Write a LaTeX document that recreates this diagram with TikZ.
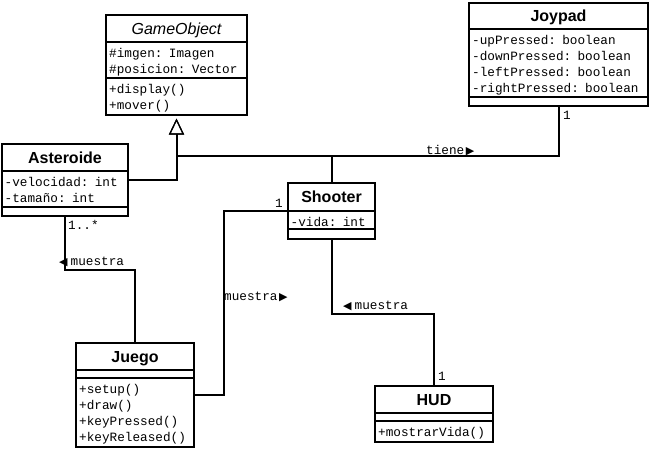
\documentclass[tikz,border=0pt]{standalone}
\usepackage{fontspec}
\setmainfont{Liberation Sans}
\setmonofont{Liberation Mono}
\newfontfamily\symfont{DejaVu Sans}
\usepackage{tikz}
\usetikzlibrary{
	positioning,
	arrows.meta
}

\newcommand{\tipright}{{\hspace{1.5pt}\symfont\fontsize{11}{11}\selectfont ▶}}
\newcommand{\tipleft}{{\symfont\fontsize{11}{11}\selectfont ◀}\hspace{3pt}}

\tikzset{
	umlclass/.style={draw, line width=2pt, anchor=north west, inner sep=0pt},
	classname/.style={anchor=base, inner sep=0pt, font=\fontsize{16}{16}\selectfont\bfseries},
	members/.style={anchor=base west, inner sep=0pt, text width=175pt, align=left,
		font=\fontsize{12.7}{16}\selectfont\ttfamily},
	mult/.style={anchor=base west, inner sep=0pt, font=\fontsize{12.7}{16}\selectfont\ttfamily},
	divider/.style={line width=2pt},
	assoc/.style={line width=2pt},
	inherit/.style={line width=2pt,
		-{Triangle[open, length=16pt, width=15pt, line width=1.2pt]}, shorten >=2.5pt}
}

\begin{document}
\begin{tikzpicture}[x=1pt, y=-1pt]
	\useasboundingbox (0,0) rectangle (650,448);

	% GameObject
	\node[umlclass, minimum width=141pt, minimum height=100pt] (gameobject) at (105,14) {};
	\node[classname] (gameobject-name) at (gameobject.north |- 0,34) {\mdseries\itshape GameObject};
	\node[members] (gameobject-attr) at (109,57.5) {\#imgen: Imagen\\\#posicion: Vector};
	\node[members] (gameobject-ops) at (109,93.5) {+display()\\+mover()};
	\foreach \y in {42,78}
		\draw[divider] (gameobject.west |- 0,\y) -- (gameobject.east |- 0,\y);

	% Joypad
	\node[umlclass, minimum width=179pt, minimum height=103pt] (joypad) at (468,2) {};
	\node[classname] (joypad-name) at (joypad.north |- 0,21.5) {Joypad};
	\node[members] (joypad-attr) at (472,44.5)
		{-upPressed: boolean\\-downPressed: boolean\\-leftPressed: boolean\\-rightPressed: boolean};
	\foreach \y in {29,97}
		\draw[divider] (joypad.west |- 0,\y) -- (joypad.east |- 0,\y);

	% Asteroide
	\node[umlclass, minimum width=126pt, minimum height=72pt] (asteroide) at (1,143) {};
	\node[classname] (asteroide-name) at (asteroide.north |- 0,163.5) {Asteroide};
	\node[members] (asteroide-attr) at (4.5,186.5) {-velocidad: int\\-tamaño: int};
	\foreach \y in {171,207}
		\draw[divider] (asteroide.west |- 0,\y) -- (asteroide.east |- 0,\y);

	% Shooter
	\node[umlclass, minimum width=87pt, minimum height=56pt] (shooter) at (287,182) {};
	\node[classname] (shooter-name) at (shooter.north |- 0,202.5) {Shooter};
	\node[members] (shooter-attr) at (290.5,226.5) {-vida: int};
	\foreach \y in {211,229}
		\draw[divider] (shooter.west |- 0,\y) -- (shooter.east |- 0,\y);

	% Juego
	\node[umlclass, minimum width=118pt, minimum height=104pt] (juego) at (75,342) {};
	\node[classname] (juego-name) at (juego.north |- 0,362) {Juego};
	\node[members] (juego-ops) at (79,393.5)
		{+setup()\\+draw()\\+keyPressed()\\+keyReleased()};
	\foreach \y in {370,378}
		\draw[divider] (juego.west |- 0,\y) -- (juego.east |- 0,\y);

	% HUD
	\node[umlclass, minimum width=118pt, minimum height=56pt] (hud) at (374,385) {};
	\node[classname] (hud-name) at (hud.north |- 0,405) {HUD};
	\node[members] (hud-ops) at (378,436.5) {+mostrarVida()};
	\foreach \y in {413,421}
		\draw[divider] (hud.west |- 0,\y) -- (hud.east |- 0,\y);

	% relaciones
	\coordinate (hub) at (shooter.north |- 0,156);
	\draw[inherit] (asteroide.east) -| (gameobject.south);
	\draw[inherit] (shooter.north) -- (hub) -| (gameobject.south);
	\draw[assoc] (hub) -| (joypad.south);
	\draw[assoc] (asteroide.south) -- ++(0,53) -| (juego.north);
	\draw[assoc] (juego.east) -- ++(29,0) |- (shooter.west);
	\draw[assoc] (shooter.south) -- ++(0,74) -| (hud.north);

	% etiquetas
	\node[mult] (tiene)       at (426,154)   {tiene\tipright};
	\node[mult] (m-joypad)    at (563,119.5) {1};
	\node[mult] (m-shooter)   at (275,207)   {1};
	\node[mult] (m-asteroide) at (68,229)    {1..*};
	\node[mult] (l-asteroide) at (59,265.5)  {\tipleft muestra};
	\node[mult] (l-juego)     at (224,300)   {muestra\tipright};
	\node[mult] (l-hud)       at (343,309)   {\tipleft muestra};
	\node[mult] (m-hud)       at (438,380.5) {1};
\end{tikzpicture}
\end{document}
